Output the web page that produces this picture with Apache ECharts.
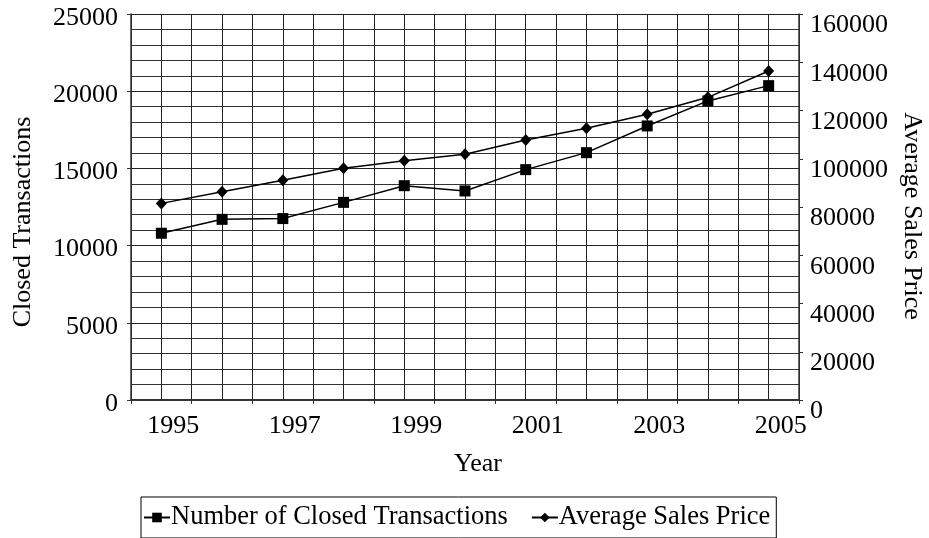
<!DOCTYPE html>
<html>
<head>
<meta charset="utf-8">
<script src="https://cdn.jsdelivr.net/npm/echarts@6/dist/echarts.min.js"></script>
<style>html,body{margin:0;padding:0;background:#fff}#c{width:929px;height:538px}</style>
</head>
<body>
<div id="c"></div>
<script>
var years = ['1995','1996','1997','1998','1999','2000','2001','2002','2003','2004','2005'];
var closedTransactions = [10800, 11700, 11750, 12800, 13880, 13540, 14920, 16020, 17750, 19370, 20360];
var avgSalesPrice = [81500, 86350, 91060, 96040, 99200, 101830, 107770, 112610, 118410, 125460, 136370];
var FONT = 'Liberation Serif';
var plain = function (v) { return String(v); };
var chart = echarts.init(document.getElementById('c'), null, {renderer: 'canvas'});
chart.setOption({
  animation: false,
  backgroundColor: '#fff',
  textStyle: {fontFamily: FONT, color: '#000'},
  grid: {left: 131, right: 130, top: 14, bottom: 138, containLabel: false, outerBoundsMode: 'none'},
  legend: {
    left: 141, top: 497,
    borderColor: '#000', borderWidth: 1,
    padding: [7, 6, 7, 2],
    itemGap: 23, itemWidth: 26, itemHeight: 12,
    textStyle: {fontFamily: FONT, fontSize: 26.5, color: '#000', padding: [0, 0, 0, -4]},
    data: ['Number of Closed Transactions', 'Average Sales Price']
  },
  xAxis: [{
    type: 'category', data: years, boundaryGap: true,
    name: 'Year', nameLocation: 'middle', nameGap: 51,
    nameTextStyle: {fontFamily: FONT, fontSize: 26, color: '#000', padding: [0, 0, 0, 26]},
    axisLine: {lineStyle: {color: '#333', width: 2}},
    axisTick: {show: true, length: 4, interval: 0, lineStyle: {color: '#333'}},
    axisLabel: {interval: 1, fontFamily: FONT, fontSize: 26, color: '#000', margin: 13, padding: [0, 0, 0, 24]},
    splitLine: {show: false}
  }, {
    type: 'value', min: 0, max: 22, interval: 1, position: 'bottom',
    axisLine: {show: false}, axisTick: {show: false}, axisLabel: {show: false},
    splitLine: {show: true, lineStyle: {color: '#222', width: 1}}
  }],
  yAxis: [{
    type: 'value', min: 0, max: 25000, interval: 5000, position: 'left',
    name: 'Closed Transactions', nameLocation: 'middle', nameGap: 95, nameRotate: 90,
    nameTextStyle: {fontFamily: FONT, fontSize: 26, color: '#000', padding: [0, 30, 0, 0]},
    axisLine: {show: true, lineStyle: {color: '#333', width: 1.5}},
    axisTick: {show: true, length: 4, lineStyle: {color: '#333'}},
    axisLabel: {formatter: plain, fontFamily: FONT, fontSize: 26, color: '#000', margin: 13,
      verticalAlign: 'top', lineHeight: 8},
    splitLine: {show: true, lineStyle: {color: '#222', width: 1}},
    minorTick: {show: false, splitNumber: 5},
    minorSplitLine: {show: true, lineStyle: {color: '#333', width: 1}}
  }, {
    type: 'value', min: 0, max: 160000, interval: 20000, position: 'right',
    name: 'Average Sales Price', nameLocation: 'middle', nameGap: 100, nameRotate: -90,
    nameTextStyle: {fontFamily: FONT, fontSize: 26, color: '#000', padding: [0, 0, 0, 18]},
    axisLine: {show: true, lineStyle: {color: '#333', width: 1.5}},
    axisTick: {show: true, length: 4, lineStyle: {color: '#333'}},
    axisLabel: {formatter: plain, fontFamily: FONT, fontSize: 26, color: '#000', margin: 11,
      verticalAlign: 'top', lineHeight: 23},
    splitLine: {show: false}
  }],
  series: [{
    name: 'Number of Closed Transactions', type: 'line', xAxisIndex: 0, yAxisIndex: 0,
    data: closedTransactions, symbol: 'rect', symbolSize: 11,
    lineStyle: {color: '#000', width: 1.5}, itemStyle: {color: '#000'}
  }, {
    name: 'Average Sales Price', type: 'line', xAxisIndex: 0, yAxisIndex: 1,
    data: avgSalesPrice, symbol: 'diamond', symbolSize: [11, 12],
    lineStyle: {color: '#000', width: 1.5}, itemStyle: {color: '#000'}
  }]
});
</script>
</body>
</html>
